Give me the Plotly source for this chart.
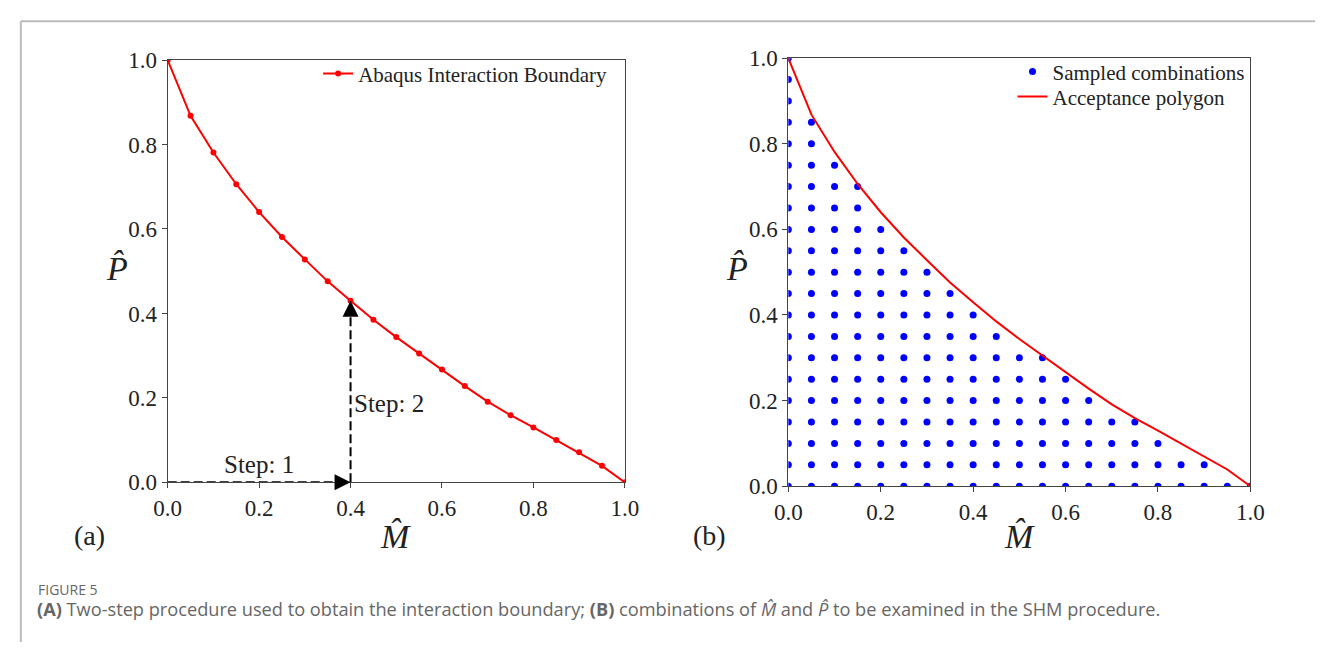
import plotly.graph_objects as go

# ---- data ----
m_boundary = [0.0, 0.05, 0.10, 0.15, 0.20, 0.25, 0.30, 0.35, 0.40, 0.45, 0.50,
              0.55, 0.60, 0.65, 0.70, 0.75, 0.80, 0.85, 0.90, 0.95, 1.0]
p_boundary = [1.0, 0.868, 0.781, 0.706, 0.640, 0.581, 0.528, 0.476, 0.430, 0.385, 0.344,
              0.305, 0.267, 0.228, 0.191, 0.159, 0.130, 0.100, 0.071, 0.039, 0.0]

# sampled grid: column M value and highest sampled P in that column (step 0.05)
m_columns = [0.0, 0.05, 0.10, 0.15, 0.20, 0.25, 0.30, 0.35, 0.40, 0.45, 0.50,
             0.55, 0.60, 0.65, 0.70, 0.75, 0.80, 0.85, 0.90, 0.95, 1.0]
p_column_max = [1.0, 0.85, 0.75, 0.70, 0.60, 0.55, 0.50, 0.45, 0.40, 0.35, 0.30,
                0.30, 0.25, 0.20, 0.15, 0.15, 0.10, 0.05, 0.05, 0.0, 0.0]
p_step = 0.05

step1_m = [0.0, 0.4]
step1_p = [0.0, 0.0]
step2_m = [0.4, 0.4]
step2_p = [0.0, 0.43]

tick_vals = [0.0, 0.2, 0.4, 0.6, 0.8, 1.0]
tick_text = ["0.0", "0.2", "0.4", "0.6", "0.8", "1.0"]

sample_m, sample_p = [], []
for mc, pmax in zip(m_columns, p_column_max):
    n = int(round(pmax / p_step))
    for k in range(n + 1):
        sample_m.append(mc)
        sample_p.append(round(k * p_step, 4))

W, H = 1329, 655
SERIF = "Liberation Serif"


def px(x):
    return x / W


def py(y):
    return 1 - y / H


fig = go.Figure()

# left panel
fig.add_trace(go.Scatter(x=step1_m, y=step1_p, mode="lines", xaxis="x", yaxis="y",
                         line=dict(color="black", width=2, dash="9px,4px"), showlegend=False))
fig.add_trace(go.Scatter(x=step2_m, y=step2_p, mode="lines", xaxis="x", yaxis="y",
                         line=dict(color="black", width=2, dash="9px,4px"), showlegend=False))
fig.add_trace(go.Scatter(x=m_boundary, y=p_boundary, mode="lines+markers", xaxis="x", yaxis="y",
                         name="Abaqus Interaction Boundary", legend="legend",
                         line=dict(color="#ff0000", width=2),
                         marker=dict(color="#ff0000", size=6)))

# right panel
fig.add_trace(go.Scatter(x=sample_m, y=sample_p, mode="markers", xaxis="x2", yaxis="y2",
                         name="Sampled combinations", legend="legend2",
                         marker=dict(color="#0000ff", size=7)))
fig.add_trace(go.Scatter(x=m_boundary, y=p_boundary, mode="lines", xaxis="x2", yaxis="y2",
                         name="Acceptance polygon", legend="legend3",
                         line=dict(color="#ff0000", width=2)))

axis_common = dict(range=[0, 1], tickvals=tick_vals, ticktext=tick_text, ticks="outside",
                   ticklen=5, tickwidth=1, tickcolor="#444", showline=True, linecolor="#444",
                   linewidth=1, mirror=True, showgrid=False, zeroline=False,
                   tickfont=dict(family=SERIF, size=23, color="#222"))

legend_common = dict(yanchor="top", xref="paper", yref="paper",
                     bgcolor="rgba(0,0,0,0)", font=dict(family=SERIF, size=21, color="#222"),
                     itemwidth=30, tracegroupgap=0)

fig.update_layout(
    width=W, height=H, margin=dict(l=0, r=0, t=0, b=0),
    paper_bgcolor="white", plot_bgcolor="white",
    xaxis=dict(domain=[px(157), px(624)], anchor="y", **axis_common),
    yaxis=dict(domain=[py(489), py(50)], anchor="x", **axis_common),
    xaxis2=dict(domain=[px(791), px(1263)], anchor="y2", **axis_common),
    yaxis2=dict(domain=[py(493), py(48)], anchor="x2", **axis_common),
    legend=dict(x=px(611), y=py(43), xanchor="right", **legend_common),
    legend2=dict(x=px(1020), y=py(41), xanchor="left", **legend_common),
    legend3=dict(x=px(1020), y=py(67), xanchor="left", **legend_common),
    showlegend=True,
)

ann = []
# arrow heads
ann.append(dict(x=0.4, y=0.0, ax=0.37, ay=0.0, xref="x", yref="y", axref="x", ayref="y",
                showarrow=True, arrowhead=2, arrowsize=1.6, arrowwidth=2, arrowcolor="black", text=""))
ann.append(dict(x=0.4, y=0.43, ax=0.4, ay=0.40, xref="x", yref="y", axref="x", ayref="y",
                showarrow=True, arrowhead=2, arrowsize=1.6, arrowwidth=2, arrowcolor="black", text=""))
ann.append(dict(x=0.2, y=0.043, xref="x", yref="y", text="Step: 1", showarrow=False,
                xanchor="center", yanchor="middle",
                font=dict(family=SERIF, size=25, color="#222")))
ann.append(dict(x=0.403, y=0.187, xref="x", yref="y", text="Step: 2", showarrow=False,
                xanchor="left", yanchor="middle",
                font=dict(family=SERIF, size=25, color="#222")))
# axis titles
for xx, yy in [(390, 545), (1027, 545)]:
    ann.append(dict(x=px(xx), y=py(yy), xref="paper", yref="paper", text="<i>M̂</i>",
                    xanchor="center", yanchor="middle",
                    showarrow=False, font=dict(family=SERIF, size=34, color="#222")))
for xx, yy in [(105, 267), (739, 267)]:
    ann.append(dict(x=px(xx), y=py(yy), xref="paper", yref="paper", text="<i>P̂</i>",
                    xanchor="center", yanchor="middle",
                    showarrow=False, font=dict(family=SERIF, size=34, color="#222")))
# panel labels
ann.append(dict(x=px(77), y=py(544), xref="paper", yref="paper", text="(a)", showarrow=False,
                xanchor="center", yanchor="middle",
                font=dict(family=SERIF, size=28, color="#222")))
ann.append(dict(x=px(710), y=py(544), xref="paper", yref="paper", text="(b)", showarrow=False,
                xanchor="center", yanchor="middle",
                font=dict(family=SERIF, size=28, color="#222")))
# caption
ann.append(dict(x=px(22), y=py(600), xref="paper", yref="paper", xanchor="left", yanchor="middle",
                text="FIGURE 5", showarrow=False,
                font=dict(family="Open Sans", size=14, color="#666")))
ann.append(dict(x=px(21), y=py(621), xref="paper", yref="paper", xanchor="left", yanchor="middle",
                text="<b>(A)</b> Two-step procedure used to obtain the interaction boundary; <b>(B)</b> "
                     "combinations of <i>M̂</i> and <i>P̂</i> to be examined in the SHM procedure.",
                showarrow=False, font=dict(family="Open Sans", size=18.2, color="#666")))
fig.update_layout(annotations=ann)

fig.update_layout(shapes=[
    dict(type="line", xref="paper", yref="paper", x0=px(7), x1=1, y0=py(9.5), y1=py(9.5),
         line=dict(color="#bbbbbb", width=2)),
    dict(type="line", xref="paper", yref="paper", x0=px(7), x1=px(7), y0=0, y1=py(9.5),
         line=dict(color="#bbbbbb", width=2)),
])

fig.write_html("out.html")
